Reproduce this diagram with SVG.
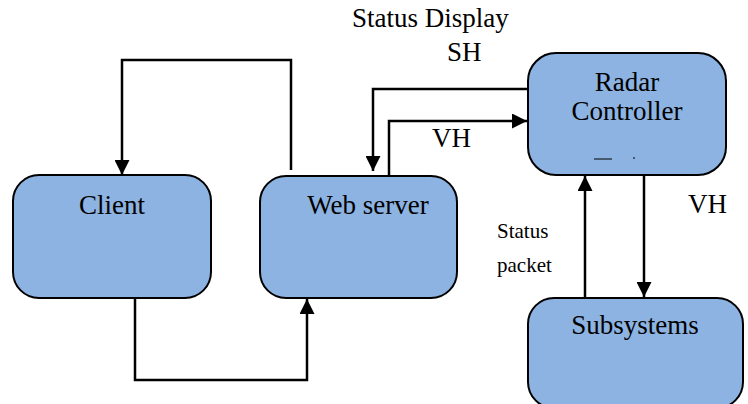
<svg xmlns="http://www.w3.org/2000/svg" width="748" height="404" viewBox="0 0 748 404">
  <defs>
    <marker id="arrow" viewBox="0 0 10 10" refX="10" refY="5" markerWidth="6" markerHeight="6" markerUnits="strokeWidth" orient="auto">
      <path d="M0,0 L10,5 L0,10 Z" fill="#000"/>
    </marker>
    <style>
      .box { fill: #8db3e2; stroke: #000; stroke-width: 2; }
      .lbl { font-family: "Liberation Serif", "Times New Roman", serif; font-size: 27px; fill: #000; }
      .small { font-size: 21px; }
      .wire { fill: none; stroke: #000; stroke-width: 2.5; }
    </style>
  </defs>

  <rect width="748" height="404" fill="#fff"/>

  <!-- connectors -->
  <g id="connectors">
    <!-- web server back to client (loop over the top) -->
    <path class="wire" d="M291,170 V60 H122 V175" marker-end="url(#arrow)"/>
    <!-- client to web server (loop underneath) -->
    <path class="wire" d="M135,298 V380 H307 V299" marker-end="url(#arrow)"/>
    <!-- radar controller to web server: SH -->
    <path class="wire" d="M528,89 H373 V171" marker-end="url(#arrow)"/>
    <!-- web server to radar controller: VH -->
    <path class="wire" d="M389,176 V121 H527" marker-end="url(#arrow)"/>
    <!-- radar controller to subsystems: VH -->
    <path class="wire" d="M644,175 V297" marker-end="url(#arrow)"/>
    <!-- subsystems to radar controller: status packet -->
    <path class="wire" d="M585,298 V176" marker-end="url(#arrow)"/>
  </g>

  <g id="client">
    <rect class="box" x="13" y="175" width="198" height="123" rx="26"/>
    <text class="lbl" x="112" y="214" text-anchor="middle">Client</text>
  </g>

  <g id="web-server">
    <rect class="box" x="260" y="176" width="197" height="122" rx="26"/>
    <text class="lbl" x="368" y="214" text-anchor="middle">Web server</text>
  </g>

  <g id="radar-controller">
    <rect class="box" x="528" y="53" width="198" height="122" rx="28"/>
    <text class="lbl" x="627" y="91" text-anchor="middle">Radar</text>
    <text class="lbl" x="627" y="120" text-anchor="middle">Controller</text>
    <!-- clipped remnant marks near the bottom edge -->
    <line x1="594" y1="159" x2="612" y2="159" stroke="#000" stroke-width="1"/>
    <line x1="633" y1="158" x2="635" y2="158" stroke="#000" stroke-width="1"/>
  </g>

  <g id="subsystems">
    <rect class="box" x="528" y="298" width="215" height="110" rx="26"/>
    <text class="lbl" x="635" y="334" text-anchor="middle">Subsystems</text>
  </g>

  <!-- connector labels -->
  <g id="labels">
    <text class="lbl" x="352" y="27">Status Display</text>
    <text class="lbl" x="447" y="61">SH</text>
    <text class="lbl" x="432" y="147">VH</text>
    <text class="lbl" x="688" y="213">VH</text>
    <text class="lbl small" x="497" y="238">Status</text>
    <text class="lbl small" x="497" y="272">packet</text>
  </g>
</svg>
